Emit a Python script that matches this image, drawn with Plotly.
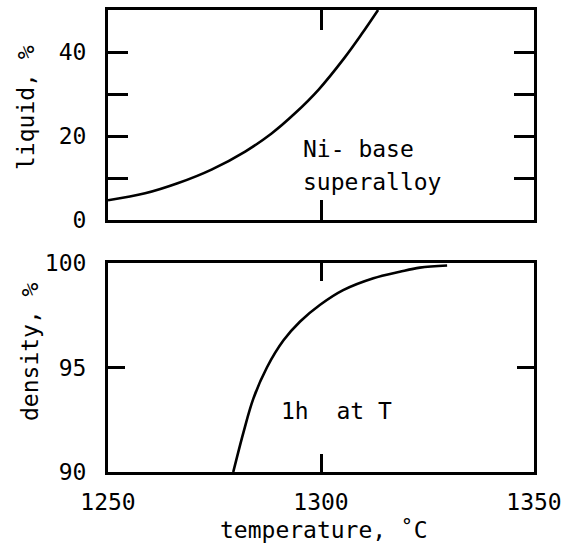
import plotly.graph_objects as go

# Liquid fraction of the Ni-base superalloy vs temperature
liq_temp = [1250.0, 1258.7, 1266.5, 1274.3, 1282.2, 1288.4, 1293.9, 1299.4, 1305.5, 1309.5, 1313.4]
liq_pct = [4.7, 6.35, 8.8, 12.0, 16.3, 20.6, 25.4, 31.0, 38.6, 44.2, 50.0]

# Sintered density after 1 h at temperature
den_temp = [1279.4, 1281.8, 1284.1, 1287.3, 1291.2, 1295.1, 1299.8, 1305.2, 1312.3, 1318.5, 1323.2, 1329.6]
den_pct = [90.0, 91.9, 93.5, 95.0, 96.3, 97.2, 98.0, 98.7, 99.27, 99.58, 99.78, 99.88]

x_ticks = [1250, 1300, 1350]
liq_ticks = [0, 10, 20, 30, 40]
liq_ticktext = ["0", "", "20", "", "40"]
den_ticks = [90, 95, 100]

FONT = "DejaVu Sans Mono, Liberation Mono, monospace"
BLACK = "#000000"
FS = 23

fig = go.Figure()
fig.add_trace(go.Scatter(x=liq_temp, y=liq_pct, mode="lines",
                         line=dict(color=BLACK, width=2.6, shape="spline", smoothing=1.0),
                         xaxis="x", yaxis="y", showlegend=False, cliponaxis=True))
fig.add_trace(go.Scatter(x=den_temp, y=den_pct, mode="lines",
                         line=dict(color=BLACK, width=2.6, shape="spline", smoothing=1.0),
                         xaxis="x2", yaxis="y2", showlegend=False, cliponaxis=True))

axis_common = dict(showline=True, linecolor=BLACK, linewidth=3, mirror="allticks", ticks="inside",
                   tickcolor=BLACK, tickwidth=3, showgrid=False, zeroline=False, automargin=False,
                   tickfont=dict(family=FONT, size=FS, color=BLACK))

top_dom = [(472 - 220) / 462, 1.0]
bot_dom = [0.0, (472 - 263) / 462]


def note(text, x, y, xref, yref, **kw):
    return dict(text=text, x=x, y=y, xref=xref, yref=yref, showarrow=False,
                font=dict(family=FONT, size=FS, color=BLACK), **kw)


fig.update_layout(
    width=568, height=556,
    margin=dict(l=108, r=34, t=10, b=84, autoexpand=False),
    paper_bgcolor="white", plot_bgcolor="white",
    font=dict(family=FONT, color=BLACK),
    xaxis=dict(axis_common, domain=[0, 1], range=[1250, 1350], tickvals=[1300], ticklen=20,
               showticklabels=False, anchor="y"),
    yaxis=dict(axis_common, domain=top_dom, range=[0, 50], tickvals=liq_ticks, ticktext=liq_ticktext,
               ticklen=20, ticklabelstandoff=14, anchor="x"),
    xaxis2=dict(axis_common, domain=[0, 1], range=[1250, 1350], tickvals=x_ticks, ticklen=18,
                ticklabelstandoff=7, anchor="y2"),
    yaxis2=dict(axis_common, domain=bot_dom, range=[90, 100], tickvals=den_ticks, ticklen=17,
                ticklabelstandoff=14, anchor="x2"),
    annotations=[
        note("Ni- base", 1295.2, 16.9, "x", "y", xanchor="left", yanchor="middle"),
        note("superalloy", 1295.2, 9.0, "x", "y", xanchor="left", yanchor="middle"),
        note("1h\u00a0\u00a0at\u00a0T", 1290.2, 92.9, "x2", "y2", xanchor="left", yanchor="middle"),
        note("liquid, %", (26 - 108) / 426, (472 - 108) / 462, "paper", "paper",
             textangle=-90, xanchor="center", yanchor="middle"),
        note("density, %", (30 - 108) / 426, (472 - 352) / 462, "paper", "paper",
             textangle=-90, xanchor="center", yanchor="middle"),
        note("temperature, \u02daC", (324 - 108) / 426, (472 - 530) / 462, "paper", "paper",
             xanchor="center", yanchor="middle"),
    ],
)

fig.write_html("out.html")
